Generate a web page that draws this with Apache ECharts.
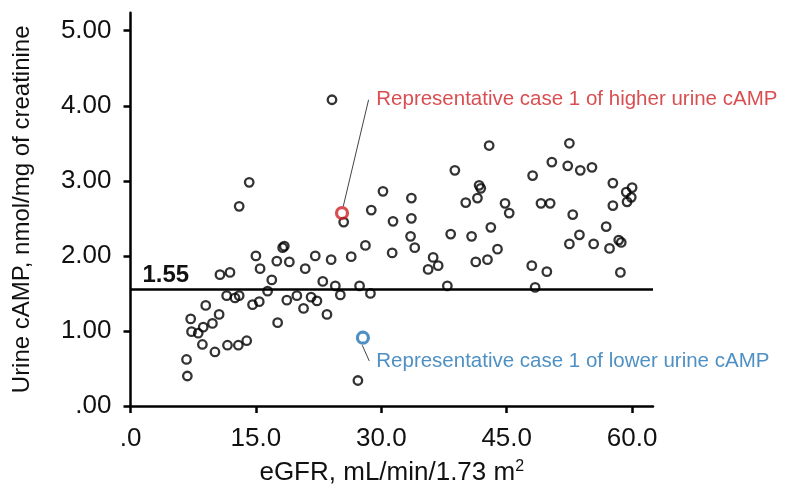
<!DOCTYPE html>
<html>
<head>
<meta charset="utf-8">
<script src="https://cdn.jsdelivr.net/npm/echarts@6/dist/echarts.min.js"></script>
<style>html,body{margin:0;padding:0;background:#fff}#c{width:803px;height:496px}</style>
</head>
<body>
<div id="c"></div>
<script>
// ---- data ----
const xTicks = [0, 15, 30, 45, 60];
const yTicks = [0, 1, 2, 3, 4, 5];
const eGFR = [24.1, 14.2, 13.0, 25.5, 28.8, 30.2, 33.6, 31.4, 33.6, 33.5, 34.0, 18.2, 18.4, 15.0, 17.5, 19.0, 15.5, 20.9, 22.1, 24.0,
  26.4, 28.1, 31.3, 10.7, 11.9, 16.9, 16.4, 11.5, 12.5, 13.0, 14.6, 15.4, 18.7, 19.9, 21.6, 22.3, 20.7, 23.0, 24.5, 25.1,
  23.5, 27.4, 28.7, 9.0, 10.6, 7.2, 9.8, 8.7, 7.3, 8.1, 17.6, 8.6, 10.1, 11.6, 12.9, 13.9, 6.7, 6.8, 27.2,
  42.9, 52.5, 38.8, 50.4, 52.3, 53.8, 55.2, 48.1, 41.7, 41.9, 41.5, 40.1, 44.8, 45.3, 49.1, 50.2, 52.9, 57.7, 59.3, 60.0,
  59.9, 59.4, 57.7, 43.1, 38.3, 40.8, 56.9, 53.7, 52.5, 55.4, 58.4, 58.7, 57.3, 43.9, 36.2, 35.6, 36.8, 41.3, 42.7, 48.0,
  49.8, 58.6, 37.9, 48.4];
const cAMP = [4.08, 2.98, 2.66, 2.45, 2.61, 2.86, 2.77, 2.46, 2.50, 2.26, 2.11, 2.11, 2.13, 2.00, 1.93, 1.92, 1.83, 1.83, 2.00, 1.95,
  1.99, 2.14, 2.04, 1.75, 1.78, 1.68, 1.53, 1.47, 1.44, 1.47, 1.35, 1.39, 1.41, 1.47, 1.45, 1.40, 1.30, 1.66, 1.60, 1.48,
  1.22, 1.60, 1.50, 1.34, 1.22, 1.16, 1.10, 1.05, 0.99, 0.97, 1.11, 0.82, 0.72, 0.81, 0.81, 0.87, 0.62, 0.40, 0.34,
  3.47, 3.50, 3.14, 3.25, 3.20, 3.14, 3.18, 3.07, 2.94, 2.90, 2.77, 2.71, 2.70, 2.57, 2.70, 2.70, 2.55, 2.97, 2.85, 2.91,
  2.78, 2.72, 2.67, 2.38, 2.29, 2.26, 2.39, 2.28, 2.16, 2.16, 2.21, 2.18, 2.10, 2.09, 1.98, 1.82, 1.87, 1.92, 1.95, 1.87,
  1.79, 1.78, 1.60, 1.58];
const highCase = [25.3, 2.57];
const lowCase = [27.8, 0.91];
const threshold = 1.55;
const thresholdText = '1.55';
const highText = 'Representative case 1 of higher urine cAMP';
const lowText = 'Representative case 1 of lower urine cAMP';
const highLeader = [[25.45, 2.66], [28.48, 4.08]];
const lowLeader = [[27.72, 0.81], [28.56, 0.60]];
const highLabelAt = [29.4, 4.08];
const lowLabelAt = [29.4, 0.59];

const FONT = "'Liberation Sans', Arial, sans-serif";
const RED = '#d02226';
const BLUE = '#2274b4';

const chart = echarts.init(document.getElementById('c'), null, {renderer: 'canvas'});
chart.setOption({
  animation: false,
  backgroundColor: '#fff',
  grid: {left: 130.5, right: 150, top: 12.7, bottom: 90, containLabel: false},
  xAxis: {
    type: 'value', min: 0, max: 62.5, interval: 15,
    name: 'eGFR, mL/min/1.73 m{sup|2}', nameLocation: 'middle', nameGap: 53,
    nameTextStyle: {fontFamily: FONT, fontSize: 26, color: '#111',
      rich: {sup: {fontFamily: FONT, fontSize: 16, color: '#111', verticalAlign: 'top', padding: [0, 0, 12, 0]}}},
    axisLine: {lineStyle: {color: '#000', width: 2.5}},
    axisTick: {show: true, length: 7, lineStyle: {color: '#000', width: 2.5}, customValues: xTicks},
    axisLabel: {fontFamily: FONT, fontSize: 26, color: '#111', margin: 20, customValues: xTicks,
      formatter: v => v === 0 ? '.0' : v.toFixed(1)},
    splitLine: {show: false}
  },
  yAxis: {
    type: 'value', min: 0, max: 5.24, interval: 1,
    name: 'Urine cAMP, nmol/mg of creatinine', nameLocation: 'middle', nameGap: 96,
    nameTextStyle: {fontFamily: FONT, fontSize: 24, color: '#111'},
    axisLine: {lineStyle: {color: '#000', width: 2.5}},
    axisTick: {show: true, length: 7, lineStyle: {color: '#000', width: 2.5}, customValues: yTicks},
    axisLabel: {fontFamily: FONT, fontSize: 26, color: '#111', margin: 19, customValues: yTicks,
      formatter: v => v === 0 ? '.00' : v.toFixed(2)},
    splitLine: {show: false}
  },
  series: [
    {
      type: 'scatter', z: 3,
      data: eGFR.map((x, i) => [x, cAMP[i]]),
      symbol: 'circle', symbolSize: 8.5,
      itemStyle: {color: 'rgba(0,0,0,0)', borderColor: '#000', borderWidth: 2.3},
      markLine: {
        silent: true, symbol: 'none', animation: false,
        lineStyle: {color: '#000', width: 2.5, type: 'solid'},
        label: {show: true, position: 'insideStartTop', formatter: thresholdText,
          fontFamily: FONT, fontSize: 24, fontWeight: 'bold', color: '#111', distance: [12, 2]},
        data: [{yAxis: threshold}]
      }
    },
    {
      type: 'scatter', z: 4,
      data: [highCase],
      symbol: 'circle', symbolSize: 11,
      itemStyle: {color: 'rgba(0,0,0,0)', borderColor: RED, borderWidth: 3.2},
      markLine: {
        silent: true, symbol: 'none', animation: false,
        lineStyle: {color: '#444', width: 1, type: 'solid'},
        label: {show: false},
        data: [[{coord: highLeader[0]}, {coord: highLeader[1]}]]
      }
    },
    {
      type: 'scatter', z: 4,
      data: [lowCase],
      symbol: 'circle', symbolSize: 11,
      itemStyle: {color: 'rgba(0,0,0,0)', borderColor: BLUE, borderWidth: 3.2},
      markLine: {
        silent: true, symbol: 'none', animation: false,
        lineStyle: {color: '#444', width: 1, type: 'solid'},
        label: {show: false},
        data: [[{coord: lowLeader[0]}, {coord: lowLeader[1]}]]
      }
    },
    {
      type: 'scatter', z: 5, silent: true,
      symbolSize: 0,
      data: [
        {value: highLabelAt, label: {formatter: highText, color: RED}},
        {value: lowLabelAt, label: {formatter: lowText, color: BLUE}}
      ],
      label: {show: true, position: 'right', distance: 0, fontFamily: FONT, fontSize: 20.5}
    }
  ]
});
</script>
</body>
</html>
